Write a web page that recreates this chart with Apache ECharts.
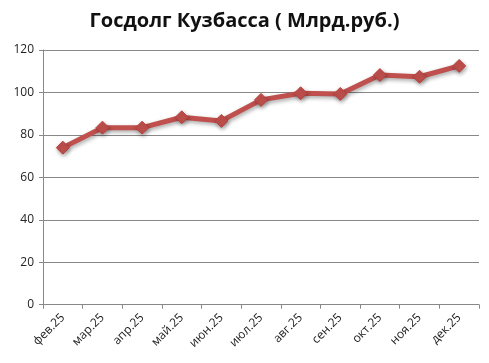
<!DOCTYPE html>
<html><head><meta charset="utf-8">
<script src="https://cdn.jsdelivr.net/npm/echarts@6/dist/echarts.min.js"></script>
<style>html,body{margin:0;padding:0;background:#fff}#c{width:489px;height:363px}</style>
</head><body><div id="c"></div>
<script>
const categories = ['фев.25','мар.25','апр.25','май.25','июн.25','июл.25','авг.25','сен.25','окт.25','ноя.25','дек.25'];
const values = [74.0, 83.4, 83.4, 88.3, 86.6, 96.5, 99.6, 99.3, 108.2, 107.4, 112.5];
const yTicks = { min: 0, max: 120, interval: 20 };
const titleText = 'Госдолг Кузбасса ( Млрд.руб.)';

const chart = echarts.init(document.getElementById('c'), null, {renderer:'canvas'});
chart.setOption({
  animation: false,
  title: { text: titleText, left: 'center', top: 6,
    textStyle: { fontFamily: 'Open Sans', fontWeight: 'bold', fontSize: 20, color: '#111' } },
  grid: { left: 43, right: 10, top: 50, bottom: 58.3, containLabel: false },
  xAxis: { type: 'category', data: categories, boundaryGap: true,
    axisLine: { lineStyle: { color: '#888', width: 1 } },
    axisTick: { show: true, alignWithLabel: false, length: 4, lineStyle: { color: '#888' } },
    axisLabel: { rotate: 45, interval: 0, fontFamily: 'Open Sans', fontSize: 12, color: '#222', margin: 11 } },
  yAxis: { type: 'value', min: yTicks.min, max: yTicks.max, interval: yTicks.interval,
    axisLine: { show: true, lineStyle: { color: '#888', width: 1 } },
    axisTick: { show: true, length: 4, lineStyle: { color: '#888' } },
    splitLine: { lineStyle: { color: '#888', width: 1 } },
    axisLabel: { fontFamily: 'Open Sans', fontSize: 12, color: '#222', margin: 9 } },
  series: [{ type: 'line', data: values, symbol: 'diamond', symbolSize: 13,
    lineStyle: { color: '#C0504D', width: 5, shadowColor: 'rgba(0,0,0,0.35)', shadowBlur: 4, shadowOffsetX: 1, shadowOffsetY: 2 },
    itemStyle: { color: '#C0504D', borderColor: '#B9403D', borderWidth: 1, shadowColor: 'rgba(0,0,0,0.35)', shadowBlur: 4, shadowOffsetX: 1, shadowOffsetY: 2 } }]
});
</script></body></html>
